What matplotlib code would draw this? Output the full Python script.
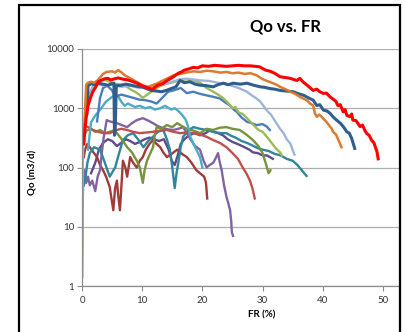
import matplotlib
matplotlib.use("Agg")
import matplotlib.pyplot as plt
from matplotlib.patches import Rectangle

plt.rcParams['font.family'] = ['Lato', 'DejaVu Sans']

# FR (%) and Qo (m3/d) for each well
fr_red = [0.3, 0.5, 0.7, 1.0, 1.4, 1.8, 2.3, 2.7, 3.3, 3.8, 4.3, 4.8, 5.2, 6.0, 6.8, 7.6, 8.1,
          8.5, 9.3, 9.8, 10.4, 11.0, 11.7, 12.2, 12.6, 13.4, 14.3, 15.2, 16.0, 16.5, 17.0,
          17.7, 18.5, 19.2, 20.0, 21.0, 22.0, 23.0, 24.0, 25.0, 26.0, 27.0, 28.0, 29.5,
          30.5, 31.3, 32.0, 32.9, 33.8, 34.6, 35.2, 35.7, 36.2, 36.7, 37.5, 38.4, 39.0, 39.5,
          40.1, 40.6, 41.2, 41.8, 42.2, 42.5, 42.9, 43.4, 43.7, 44.0, 44.5, 44.8, 45.0, 45.5,
          46.2, 46.6, 47.0, 47.3, 47.7, 48.1, 48.5, 49.0, 49.2]
qo_red = [250, 450, 700, 1100, 1500, 1900, 2300, 2800, 3000, 3150, 3200, 3000, 3100, 3250,
          3100, 3000, 2900, 2800, 2600, 2450, 2300, 2200, 2100, 2300, 2450, 2600, 3000, 3400,
          3900, 4100, 4400, 4600, 4900, 4800, 5200, 5100, 5300, 5200, 5100, 5200, 5300, 5200,
          5200, 5000, 4400, 4200, 3900, 3400, 3300, 3200, 3050, 2950, 3200, 2800, 2400, 2000,
          2100, 1900, 1780, 1800, 1560, 1400, 1300, 1110, 1150, 870, 950, 760, 720, 800, 630,
          620, 490, 520, 420, 375, 350, 290, 260, 185, 140]

fr_orange = [0.3, 0.5, 0.7, 1.0, 1.5, 2.0, 2.5, 3.0, 3.5, 4.1, 5.0, 5.5, 6.0, 6.6, 7.1, 7.8,
             8.5, 9.3, 10.2, 11.0, 11.7, 12.4, 13.3, 14.2, 15.2, 16.3, 17.4, 18.5, 19.6, 20.7,
             21.8, 23.0, 24.0, 25.0, 26.0, 27.0, 28.0, 29.0, 30.0, 30.7, 31.5, 32.3, 32.9,
             33.8, 34.6, 35.4, 36.2, 36.8, 37.4, 37.9, 38.4, 38.7, 39.0, 39.4, 39.8, 40.2,
             40.6, 41.2, 41.5, 41.7, 42.2, 42.6, 43.1]
qo_orange = [250, 900, 2500, 2700, 2800, 2700, 2900, 3300, 3800, 4100, 4200, 4000, 4400, 4000,
             3600, 3300, 3000, 2700, 2400, 2300, 2450, 2600, 2900, 3200, 3600, 3800, 4000,
             4200, 4100, 4300, 4200, 4000, 4100, 3900, 4000, 3800, 3900, 3600, 3100, 2900,
             2700, 2500, 2300, 2100, 1900, 1750, 1560, 1450, 1350, 1200, 1110, 820, 720, 780,
             720, 650, 590, 490, 450, 400, 360, 290, 220]

fr_dkblue = [0.8, 1.0, 1.5, 2.1, 2.7, 3.5, 4.3, 5.0, 5.3, 5.4, 5.5, 5.7, 6.5, 7.3, 8.2, 9.0,
             9.9, 10.7, 11.5, 12.4, 13.2, 14.0, 14.8, 15.6, 16.3, 17.0, 17.9, 18.8, 19.6,
             20.7, 21.8, 22.6, 23.5, 24.3, 25.1, 26.3, 27.4, 28.5, 29.6, 30.4, 31.2, 32.0,
             32.9, 34.0, 35.1, 36.0, 36.8, 37.6, 38.4, 39.0, 39.5, 40.1, 40.7, 41.2, 41.8,
             42.3, 42.9, 43.4, 44.0, 44.4, 44.8, 45.3]
qo_dkblue = [800, 2400, 2600, 2500, 2650, 2550, 2450, 2600, 2650, 350, 400, 2400, 2450, 2550,
             2450, 2350, 2300, 2150, 2000, 1950, 1900, 2000, 2150, 2300, 2950, 2700, 2800,
             2550, 2450, 2400, 2300, 2500, 2650, 2500, 2650, 2550, 2650, 2450, 2300, 2250,
             2150, 2100, 2000, 1950, 1900, 1750, 1660, 1500, 1370, 1110, 1150, 930, 900, 820,
             700, 630, 560, 490, 400, 380, 310, 210]

fr_ltblue = [0.05, 0.1, 0.2, 0.5, 1.0, 1.5, 2.0, 2.5, 3.5, 5.0, 6.5, 8.0, 9.5, 11.0, 12.5,
             14.0, 15.5, 16.3, 17.5, 19.6, 21.0, 22.9, 24.6, 26.0, 27.4, 28.2, 29.0, 29.6,
             30.1, 30.6, 31.0, 31.4, 31.8, 32.3, 32.9, 33.5, 34.0, 34.6, 35.1, 35.3]
qo_ltblue = [5, 60, 300, 700, 1200, 2000, 2500, 2600, 2400, 2500, 2300, 2400, 2200, 2300,
             2500, 2600, 2900, 3100, 3150, 2950, 2900, 2650, 2450, 2200, 1900, 1650, 1460,
             1300, 1110, 950, 850, 780, 670, 560, 450, 380, 300, 255, 185, 165]

fr_mdblue = [2.5, 3.0, 3.5, 4.2, 5.0, 5.5, 6.5, 7.5, 8.5, 9.5, 10.5, 11.5, 12.4, 13.5, 14.3,
             15.2, 16.4, 17.4, 18.5, 19.6, 20.7, 21.8, 22.9, 23.8, 24.6, 25.2, 25.7, 26.5,
             27.4, 28.2, 29.0, 30.0, 30.7, 31.2]
qo_mdblue = [600, 1500, 2200, 2400, 2000, 1560, 1700, 1600, 1500, 1400, 1370, 1300, 1200, 1560,
             1900, 2000, 2200, 1800, 1900, 1750, 1650, 1560, 1460, 1250, 1110, 950, 870, 700,
             590, 560, 520, 540, 490, 430]

fr_green = [0.5, 0.7, 1.2, 1.8, 2.3, 3.0, 3.8, 4.6, 5.5, 6.3, 7.1, 8.0, 8.8, 9.5, 10.1, 11.2,
            12.4, 13.5, 15.1, 16.0, 17.4, 18.5, 19.6, 20.7, 21.8, 22.6, 23.4, 24.2, 25.0, 25.5,
            26.0, 26.7, 27.4, 28.2, 29.0, 29.5, 30.0, 30.8, 31.5, 32.2, 32.9, 33.2]
qo_green = [500, 1100, 1700, 2300, 2800, 2900, 3000, 2800, 2600, 2500, 2450, 2100, 1900, 1700,
            1500, 1800, 2200, 2500, 2750, 2900, 3100, 2950, 2700, 2200, 1900, 1700, 1500, 1250,
            1000, 1050, 850, 800, 680, 560, 460, 420, 400, 320, 260, 210, 180, 160]

fr_cyan = [1.0, 1.5, 2.2, 3.2, 4.0, 4.8, 5.5, 6.0, 6.5, 7.1, 7.6, 8.0, 8.8, 9.6, 10.5, 11.3,
           12.1, 13.0, 13.8, 14.8, 15.4, 16.0, 16.5, 17.2, 17.6, 18.0, 18.5, 19.0, 19.6, 20.0]
qo_cyan = [200, 580, 750, 1000, 1300, 1500, 1700, 1600, 1300, 1100, 1200, 1150, 1050, 1100,
           1000, 1050, 950, 1000, 1100, 950, 1000, 900, 800, 650, 500, 330, 250, 200, 150, 100]

fr_teal = [0.3, 0.5, 0.9, 1.3, 2.0, 3.0, 3.8, 4.6, 5.5, 6.2, 6.8, 7.6, 8.5, 9.3, 10.2, 11.0,
           11.8, 12.6, 13.5, 14.1, 14.6, 15.0, 15.4, 15.7, 16.0, 16.4, 16.8, 17.6, 18.5, 19.6,
           20.7, 21.8, 23.0, 24.0, 24.6, 25.5, 26.5, 27.4, 28.5, 29.3, 30.0, 31.0, 32.0, 33.0,
           34.0, 35.0, 35.8, 36.5, 37.3]
qo_teal = [50, 60, 120, 175, 220, 200, 120, 70, 100, 180, 290, 350, 380, 300, 220, 280, 330,
           400, 430, 300, 200, 100, 45, 80, 120, 220, 330, 420, 480, 450, 430, 400, 380, 380,
           350, 320, 280, 260, 230, 210, 200, 190, 170, 160, 140, 130, 110, 90, 72]

fr_olive = [0.3, 0.8, 1.5, 2.2, 3.0, 3.8, 4.6, 5.2, 5.8, 6.6, 7.5, 8.3, 9.1, 9.6, 10.1, 10.4,
            10.8, 11.3, 11.8, 12.1, 12.4, 13.2, 14.1, 15.0, 15.8, 16.6, 17.4, 18.5, 19.6, 20.7,
            21.8, 22.9, 24.0, 25.0, 26.2, 27.3, 28.4, 29.3, 30.0, 30.5, 31.0, 31.3]
qo_olive = [350, 420, 450, 400, 430, 380, 400, 420, 380, 300, 220, 180, 130, 100, 55, 90, 130,
            170, 220, 350, 480, 450, 520, 480, 560, 500, 450, 420, 380, 450, 430, 470, 480, 450,
            430, 360, 290, 230, 175, 120, 80, 90]

fr_brick = [0.2, 0.5, 1.0, 1.8, 2.7, 3.6, 4.6, 5.5, 6.5, 7.5, 8.5, 9.6, 10.7, 11.8, 13.0, 14.1,
            15.2, 16.3, 17.4, 18.5, 19.6, 20.7, 21.8, 22.9, 24.0, 25.0, 25.9, 26.7, 27.3, 27.9,
            28.3, 28.7]
qo_brick = [450, 500, 480, 430, 400, 380, 380, 420, 450, 430, 400, 380, 390, 400, 420, 430, 400,
            380, 390, 380, 360, 330, 290, 260, 220, 175, 140, 100, 80, 60, 45, 30]

fr_dkred = [0.3, 0.5, 0.9, 1.3, 1.9, 2.5, 3.0, 3.5, 4.0, 4.6, 4.9, 5.2, 5.5, 5.8, 6.0, 6.3, 6.6,
            6.8, 7.2, 7.5, 8.0, 8.5, 9.1, 9.6, 10.1, 10.6, 11.2, 11.8, 12.4, 13.0, 13.5, 14.1,
            14.9, 15.8, 16.6, 17.4, 18.2, 19.0, 19.6, 20.3, 20.6, 20.8]
qo_dkred = [150, 200, 250, 220, 180, 150, 110, 90, 70, 47, 30, 19, 45, 60, 35, 19, 60, 130,
            100, 70, 150, 120, 100, 130, 150, 200, 250, 290, 250, 220, 180, 150, 170, 200, 170,
            150, 120, 90, 80, 70, 55, 30]

fr_purple = [0.02, 0.05, 0.1, 0.2, 0.4, 0.7, 1.0, 1.3, 1.7, 2.2, 2.6, 3.0, 3.3, 3.6, 4.1, 4.6,
             5.2, 5.8, 6.6, 7.5, 8.3, 9.1, 10.1, 11.0, 11.8, 12.6, 13.5, 14.3, 15.2, 16.0, 16.8,
             17.4, 18.0, 18.8, 19.6, 20.2, 20.7, 21.2, 21.8, 22.3, 22.6, 22.9, 23.2, 23.6, 24.0,
             24.3, 24.6, 24.8, 24.9, 25.1]
qo_purple = [1.4, 3, 20, 60, 90, 55, 70, 50, 60, 40, 70, 90, 180, 320, 630, 600, 580, 560, 520,
             480, 560, 630, 680, 620, 560, 500, 460, 440, 430, 450, 480, 380, 300, 230, 200,
             130, 100, 110, 120, 150, 175, 120, 90, 50, 32, 25, 19, 12, 8, 7]

fr_dkpurple = [1.5, 2.2, 2.8, 3.5, 4.3, 5.0, 5.8, 6.5, 7.3, 8.0, 8.8, 9.6, 10.4, 11.2, 12.0,
               12.8, 13.6, 14.4, 14.9, 15.4, 15.9, 16.4, 17.0, 17.8, 18.7, 19.6, 20.5, 21.2,
               21.8, 22.6, 23.4, 24.2, 25.0, 25.8, 26.2, 27.0, 27.8, 28.4, 29.2, 30.0, 30.7,
               31.2, 31.7]
qo_dkpurple = [80, 120, 200, 260, 300, 280, 230, 260, 300, 280, 250, 270, 300, 320, 300, 280,
               300, 200, 130, 110, 160, 250, 300, 350, 380, 350, 380, 420, 400, 380, 350, 300,
               270, 250, 240, 220, 200, 180, 175, 160, 160, 150, 140]

fig = plt.figure(figsize=(4.05, 3.32), dpi=100)
ax = fig.add_axes([82 / 405, 1 - 286 / 332, (399 - 82) / 405, (286 - 49) / 332])

# drawn bottom to top
series = [
    (fr_dkpurple, qo_dkpurple, '#604A8C', 1.7),
    (fr_dkred, qo_dkred, '#A13B38', 1.7),
    (fr_purple, qo_purple, '#8064A2', 1.7),
    (fr_teal, qo_teal, '#31869E', 1.7),
    (fr_olive, qo_olive, '#77933C', 1.7),
    (fr_brick, qo_brick, '#C0504D', 1.7),
    (fr_cyan, qo_cyan, '#4BACC6', 1.7),
    (fr_mdblue, qo_mdblue, '#4A7EBB', 1.7),
    (fr_green, qo_green, '#9BBB59', 1.7),
    (fr_ltblue, qo_ltblue, '#9DB5DA', 1.7),
    (fr_dkblue, qo_dkblue, '#2F5E8E', 2.2),
    (fr_orange, qo_orange, '#DC7A2E', 1.8),
    (fr_red, qo_red, '#FF0000', 2.2),
]
for xs, ys, c, lw in series:
    ax.plot(xs, ys, color=c, lw=lw, solid_joinstyle='round')

ax.set_yscale('log')
ax.set_ylim(1, 10000)
ax.set_xlim(0, 52.66)
ax.set_xticks([0, 10, 20, 30, 40, 50])
ax.set_yticks([1, 10, 100, 1000, 10000])
ax.set_yticklabels(['1', '10', '100', '1000', '10000'])
ax.minorticks_off()
ax.yaxis.grid(True, color='#ADADAD', lw=0.9)
ax.set_axisbelow(True)
for s in ['top', 'right']:
    ax.spines[s].set_visible(False)
for s in ['left', 'bottom']:
    ax.spines[s].set_color('#8C8C8C')
    ax.spines[s].set_linewidth(0.9)
ax.tick_params(axis='both', length=3.5, width=0.8, color='#8C8C8C', labelsize=7,
               labelcolor='#333333')
ax.tick_params(axis='y', pad=2)
ax.tick_params(axis='x', pad=4)

fig.text(285 / 405, 1 - 26 / 332, 'Qo vs. FR', ha='center', va='center',
         fontsize=12, fontweight='bold')
fig.text(262 / 405, 1 - 315 / 332, 'FR (%)', ha='center', va='center',
         fontsize=7, fontweight='bold')
fig.text(33 / 405, 1 - 172 / 332, 'Qo (m3/d)', ha='center', va='center',
         rotation=90, fontsize=7, fontweight='bold')

# chart border
fig.patches.append(Rectangle((18.5 / 405, -0.1), (400 - 18.5) / 405, 1.1 - 5 / 332,
                             transform=fig.transFigure, fill=False, lw=1.6,
                             edgecolor='black'))

fig.savefig('out.png', dpi=100)
